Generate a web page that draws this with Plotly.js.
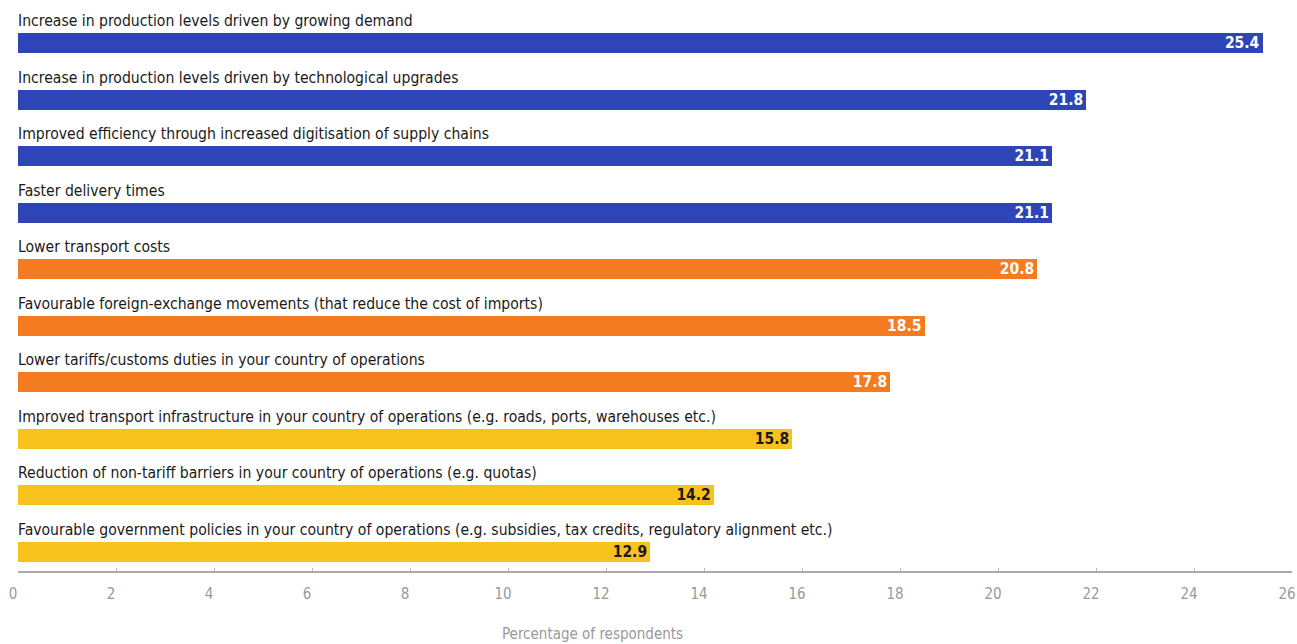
<!DOCTYPE html>
<html>
<head>
<meta charset="utf-8">
<script src="https://cdn.plot.ly/plotly-3.0.1.min.js"></script>
<style>html,body{margin:0;padding:0;background:#fff;}#chart{width:1297px;height:644px;}</style>
</head>
<body>
<div id="chart"></div>
<script>
const categories = [
  "Increase in production levels driven by growing demand",
  "Increase in production levels driven by technological upgrades",
  "Improved efficiency through increased digitisation of supply chains",
  "Faster delivery times",
  "Lower transport costs",
  "Favourable foreign-exchange movements (that reduce the cost of imports)",
  "Lower tariffs/customs duties in your country of operations",
  "Improved transport infrastructure in your country of operations (e.g. roads, ports, warehouses etc.)",
  "Reduction of non-tariff barriers in your country of operations (e.g. quotas)",
  "Favourable government policies in your country of operations (e.g. subsidies, tax credits, regulatory alignment etc.)"
];
const values = [25.4, 21.8, 21.1, 21.1, 20.8, 18.5, 17.8, 15.8, 14.2, 12.9];
const groups = ["blue","blue","blue","blue","orange","orange","orange","yellow","yellow","yellow"];
const tickValues = [0,2,4,6,8,10,12,14,16,18,20,22,24,26];
const axisTitle = "Percentage of respondents";

const palette = {blue:"#2E45B8", orange:"#F47B20", yellow:"#F8C21E"};
const labelColour = {blue:"#FFFFFF", orange:"#FFFFFF", yellow:"#1A1A1A"};
const FONT = "'Liberation Sans Narrow', 'DejaVu Sans Condensed', 'Roboto Condensed', 'Arial Narrow', sans-serif";

const ids = categories.map((c,i)=>i);

const trace = {
  type: "bar",
  orientation: "h",
  x: values,
  y: ids,
  width: 0.355,
  marker: {color: groups.map(g=>palette[g])},
  text: values.map(v=>"<b>"+v.toFixed(1)+"</b>"),
  textposition: "inside",
  insidetextanchor: "end",
  constraintext: "none",
  textfont: {family: FONT, size: 15.5, color: groups.map(g=>labelColour[g])},
  hoverinfo: "skip",
  cliponaxis: false
};

const annotations = categories.map((c,i)=>({
  x: 0, y: i, xref: "x", yref: "y",
  text: c, showarrow: false,
  xanchor: "left", yanchor: "middle",
  yshift: 22, xshift: -2,
  font: {family: FONT, size: 15.6, color: "#1A1A1A"}
}));
annotations.push({
  x: (592-18)/(1297-18-5), y: -(634-571)/571, xref: "paper", yref: "paper",
  text: axisTitle, showarrow: false, xanchor: "center", yanchor: "middle",
  font: {family: FONT, size: 15, color: "#999999"}
});

const layout = {
  width: 1297, height: 644,
  margin: {l: 18, r: 5, t: 0, b: 73},
  paper_bgcolor: "#fff", plot_bgcolor: "#fff",
  showlegend: false,
  bargap: 0,
  xaxis: {
    range: [0, 26],
    tickvals: tickValues,
    ticktext: tickValues.map(String),
    showgrid: false, zeroline: false,
    showline: true, linecolor: "#AAAAAA", linewidth: 1.5,
    ticks: "inside", ticklen: 3, tickcolor: "#BBBBBB", tickwidth: 1,
    ticklabelshift: -5, ticklabelstandoff: 8,
    tickfont: {family: FONT, size: 15, color: "#999999"},
    fixedrange: true
  },
  yaxis: {
    type: "linear",
    range: [9.336, -0.76],
    showticklabels: false, showgrid: false, zeroline: false, showline: false, ticks: "",
    fixedrange: true
  },
  annotations: annotations
};

Plotly.newPlot("chart", [trace], layout, {displayModeBar: false, staticPlot: true});
</script>
</body>
</html>
